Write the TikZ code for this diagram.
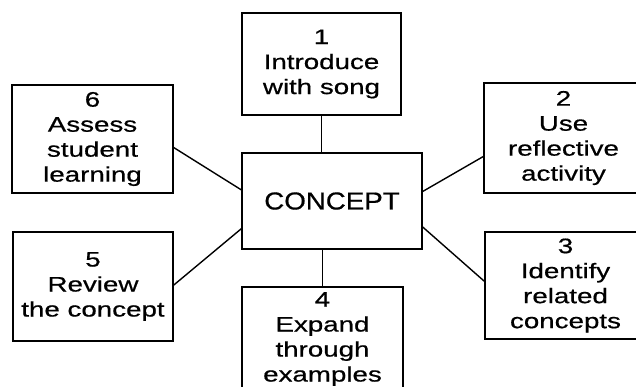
\documentclass[tikz,border=0pt]{standalone}
\usepackage{fontspec}
\setmainfont{Liberation Sans}[FakeStretch=1.32,FakeBold=0.6]
\newfontfamily\conceptfont{Liberation Sans}[FakeStretch=1.13,FakeBold=0.6]
\usetikzlibrary{calc}

\begin{document}
\begin{tikzpicture}[x=1pt,y=-1pt,line width=1.4pt,
        stepbox/.style={draw, align=center, inner sep=0pt,
            font=\fontsize{21}{25}\selectfont},
    ]
        \useasboundingbox (0,0) rectangle (636,387);
        \clip (0,0) rectangle (636,387);

        % Concept in the middle
        \node[draw, minimum width=180pt, minimum height=96pt,
            font=\conceptfont\fontsize{24.5}{29}\selectfont] (concept) at (332,201) {CONCEPT};

        % Steps round it
        \node[stepbox, minimum width=159pt, minimum height=102pt] (step1) at (321.5,64) {1\\Introduce\\with song};
        \node[stepbox, minimum width=159pt, minimum height=110pt] (step2) at (563.5,138) {2\\Use\\reflective\\activity};
        \node[stepbox, minimum width=161pt, minimum height=107pt] (step3) at (565.5,285.5) {3\\Identify\\related\\concepts};
        \node[stepbox, minimum width=161pt, minimum height=104pt] (step4) at (322.5,339) {4\\Expand\\through\\examples};
        \node[stepbox, minimum width=160pt, minimum height=109pt] (step5) at (93,286.5) {5\\Review\\the concept};
        \node[stepbox, minimum width=161pt, minimum height=108pt] (step6) at (92.5,139) {6\\Assess\\student\\learning};

        % Links
        \draw (step1.south) -- (step1.south |- concept.north);
        \draw (step2.193) -- (concept.6);
        \draw (step3.177) -- (concept.-16);
        \draw (concept.south -| step4.north) -- (step4.north);
        \draw (step5.1) -- (concept.197);
        \draw (step6.-6) -- (concept.173);

    \end{tikzpicture}
\end{document}
